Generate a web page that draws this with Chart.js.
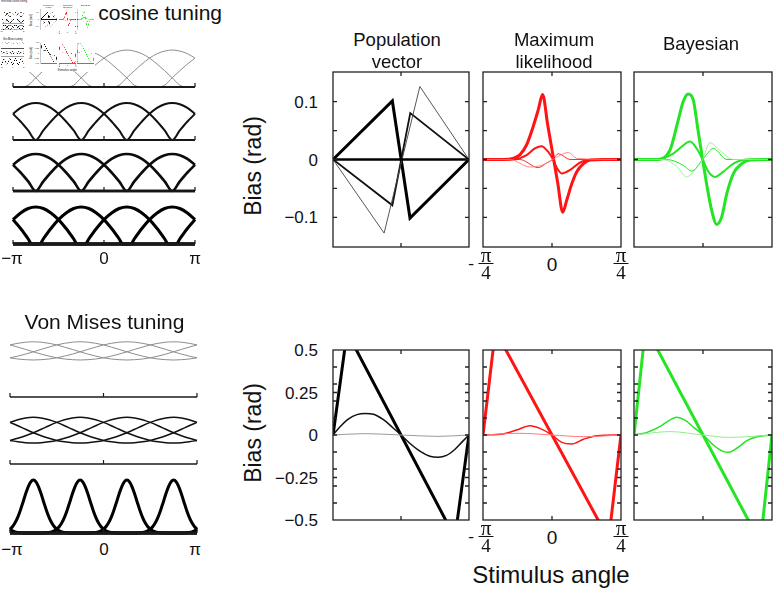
<!DOCTYPE html>
<html>
<head>
<meta charset="utf-8">
<script src="https://cdn.jsdelivr.net/npm/chart.js@4.4.1/dist/chart.umd.min.js"></script>
<style>
  html, body { margin: 0; padding: 0; background: #fff; }
  body { width: 774px; height: 589px; overflow: hidden; position: relative; font-family: "Liberation Sans", Arial, Helvetica, sans-serif; }
  .fig { position: absolute; left: 0; top: 0; width: 774px; height: 589px; background: #fff; }
  .fig canvas { position: absolute; }
  .t { position: absolute; white-space: nowrap; color: #111; line-height: 1; z-index: 2; }
  .frac { position: absolute; z-index: 3; font-family: "Liberation Serif", "DejaVu Serif", serif; color: #111; text-align: center; transform: translateX(-50%); }
  .frac .num { font-size: 21px; line-height: 13px; }
  .frac .bar { height: 1.3px; background: #111; width: 15px; margin: 1px auto 1px auto; }
  .frac .den { font-size: 19px; line-height: 16px; }
  #thumb { transform: scale(0.122); transform-origin: 0 0; z-index: 5; }
</style>
</head>
<body>
<div id="main" class="fig"></div>
<div id="thumb" class="fig"></div>
<script>
// preferred angles of the four model neurons (deg)
const prefAngles = [-135, -45, 45, 135]

// tuning profiles: response vs distance from the preferred angle (deg)
const cosOffsets = [0, 15, 30, 45, 60, 75, 90, 105, 120, 135, 150, 165, 180]
const cosWide = [1, 0.97, 0.90, 0.78, 0.62, 0.44, 0.25, 0.05, 0, 0, 0, 0, 0]
const cosHalf = [1, 0.966, 0.866, 0.707, 0.5, 0.259, 0, 0, 0, 0, 0, 0, 0]
const cosNarrowOffsets = [0, 15, 30, 45, 60, 75, 82, 90, 105, 120, 135, 150, 165, 180]
const cosNarrow = [1, 0.96, 0.84, 0.66, 0.42, 0.14, 0, 0, 0, 0, 0, 0, 0, 0]
const vmOffsets = [0, 15, 30, 45, 60, 75, 90, 105, 120, 135, 150, 165, 180]
const vmFlat = [55.2, 54.8, 53.7, 52.1, 49.9, 47.6, 45.2, 42.9, 40.9, 39.2, 38.0, 37.3, 37]
const vmBroad = [46.7, 46.1, 44.3, 41.6, 38.3, 34.7, 31.3, 28.2, 25.7, 23.6, 22.2, 21.3, 21]
const vmSharpOffsets = [0, 5, 10, 15, 20, 25, 30, 35, 40, 45, 50, 55, 60, 70, 80, 90, 105, 120, 135, 150, 165, 180]
const vmSharp = [53, 51.2, 46.2, 39, 30.8, 22.8, 15.9, 10.4, 6.5, 3.8, 2.1, 1.1, 0.6, 0.1, 0, 0, 0, 0, 0, 0, 0, 0]

// bias curves, stimulus angle in rad (-pi/4 .. pi/4), bias in rad
// top row: rectified cosine tuning
const popTopThickX = [-0.785, -0.100, 0.104, 0.785]
const popTopThickY = [0, 0.101, -0.101, 0]
const popTopMidX = [-0.785, -0.100, 0.107, 0.785]
const popTopMidY = [0, -0.079, 0.080, 0]
const popTopThinX = [-0.785, -0.195, 0.218, 0.785]
const popTopThinY = [0, -0.127, 0.126, 0]
const popTopFlatX = [-0.785, 0.785]
const popTopFlatY = [0, 0]

const mlTopThickX = [-0.785, -0.556, -0.442, -0.366, -0.290, -0.214, -0.156, -0.107, -0.050, 0.008, 0.065, 0.122, 0.168, 0.225, 0.282, 0.358, 0.435, 0.587, 0.785]
const mlTopThickY = [0, 0, 0.002, 0.008, 0.025, 0.057, 0.086, 0.112, 0.061, 0.010, -0.040, -0.091, -0.070, -0.042, -0.021, -0.007, -0.001, 0, 0]
const mlTopMidX = [-0.785, -0.442, -0.290, -0.195, -0.119, -0.042, 0.015, 0.061, 0.111, 0.206, 0.301, 0.397, 0.785]
const mlTopMidY = [0, 0, 0.0075, 0.019, 0.023, 0.013, -0.001, -0.016, -0.024, -0.018, -0.007, -0.001, 0]
const mlTopThinAX = [-0.785, -0.480, -0.251, -0.119, 0.008, 0.187, 0.282, 0.785]
const mlTopThinAY = [0, 0, -0.013, -0.010, 0, 0.012, 0.002, 0]
const mlTopThinBX = [-0.785, -0.366, -0.156, -0.061, 0.008, 0.073, 0.206, 0.785]
const mlTopThinBY = [0, 0, -0.014, -0.006, 0, 0.010, 0, 0]

const bayTopThickX = [-0.785, -0.530, -0.377, -0.282, -0.225, -0.168, -0.111, -0.057, -0.004, 0.050, 0.099, 0.156, 0.213, 0.271, 0.347, 0.442, 0.538, 0.785]
const bayTopThickY = [0, 0, 0.016, 0.068, 0.100, 0.113, 0.103, 0.051, 0, -0.050, -0.088, -0.112, -0.099, -0.059, -0.024, -0.007, -0.001, 0]
const bayTopMidX = [-0.785, -0.530, -0.339, -0.244, -0.149, -0.072, -0.004, 0.061, 0.137, 0.232, 0.347, 0.500, 0.785]
const bayTopMidY = [0, 0, 0.010, 0.022, 0.031, 0.019, 0, -0.021, -0.030, -0.021, -0.007, 0, 0]
const bayTopThinAX = [-0.785, -0.454, -0.301, -0.187, -0.091, -0.004, 0.080, 0.176, 0.347, 0.785]
const bayTopThinAY = [0, 0, -0.012, -0.030, -0.018, 0, 0.029, 0.018, 0, 0]
const bayTopThinBX = [-0.785, -0.415, -0.225, -0.130, -0.004, 0.118, 0.271, 0.785]
const bayTopThinBY = [0, 0, -0.010, -0.020, 0, 0.019, 0, 0]

// bottom row: von Mises tuning
const popBotThickX = [-0.785, -0.623, 0.623, 0.785]
const popBotThickY = [0, 0.604, -0.604, 0]
const popBotMidX = [-0.785, -0.701, -0.605, -0.510, -0.414, -0.318, -0.203, -0.088, 0, 0.104, 0.218, 0.333, 0.429, 0.525, 0.621, 0.698, 0.785]
const popBotMidY = [0, 0.05, 0.095, 0.12, 0.127, 0.122, 0.09, 0.04, 0, -0.05, -0.095, -0.125, -0.131, -0.12, -0.085, -0.045, 0]
const popBotThinX = [-0.785, -0.414, 0, 0.429, 0.785]
const popBotThinY = [0, 0.008, 0, -0.008, 0]

const mlBotThickX = [-0.785, -0.645, 0.645, 0.785]
const mlBotThickY = [0, 0.614, -0.614, 0]
const mlBotMidX = [-0.785, -0.556, -0.404, -0.252, -0.137, 0, 0.111, 0.225, 0.359, 0.511, 0.785]
const mlBotMidY = [0, 0.006, 0.029, 0.055, 0.039, 0, -0.043, -0.053, -0.025, -0.004, 0]
const mlBotThinX = [-0.785, -0.366, 0, 0.358, 0.785]
const mlBotThinY = [0, 0.01, 0, -0.01, 0]

const bayBotThickX = [-0.785, -0.654, 0.654, 0.785]
const bayBotThickY = [0, 0.635, -0.635, 0]
const bayBotMidX = [-0.785, -0.644, -0.492, -0.377, -0.301, -0.206, -0.092, 0.004, 0.118, 0.233, 0.290, 0.385, 0.500, 0.614, 0.785]
const bayBotMidY = [0, 0.014, 0.049, 0.088, 0.104, 0.088, 0.039, 0, -0.059, -0.098, -0.102, -0.078, -0.033, -0.010, 0]
const bayBotThinX = [-0.785, -0.377, 0, 0.290, 0.785]
const bayBotThinY = [0, 0.02, 0, -0.014, 0]

// axis ticks and labels
const topTicks = [-0.1, -0.05, 0, 0.05, 0.1]
const botTicks = [-0.4, -0.3, -0.25, -0.2, -0.1, 0, 0.1, 0.2, 0.25, 0.3, 0.4]
const topLabelVals = [0.1, 0, -0.1]
const topLabelText = ['0.1', '0', '\u22120.1']
const botLabelVals = [0.5, 0.25, 0, -0.25, -0.5]
const botLabelText = ['0.5', '0.25', '0', '\u22120.25', '\u22120.5']
const panelTitles = [['Population', 'vector'], ['Maximum', 'likelihood'], ['Bayesian']]

const RED = '#ff1414', RED_THIN = '#ff7a7a'
const GREEN = '#24e424', GREEN_THIN = '#8ef08e'

function label(root, str, x, y, size, align, extra) {
  const d = document.createElement('div')
  d.className = 't'
  d.textContent = str
  d.style.fontSize = size + 'px'
  d.style.left = x + 'px'
  d.style.top = y + 'px'
  const tx = align === 'right' ? '-100%' : align === 'left' ? '0' : '-50%'
  d.style.transform = 'translate(' + tx + ',-50%)' + (extra || '')
  root.appendChild(d)
  return d
}

function fraction(root, x, top, minus) {
  const d = document.createElement('div')
  d.className = 'frac'
  d.style.left = x + 'px'
  d.style.top = top + 'px'
  d.innerHTML = '<div class="num">\u03c0</div><div class="bar"></div><div class="den">4</div>'
  root.appendChild(d)
  if (minus) label(root, '-', x - 15, top + 14, 17, 'center').style.fontFamily = '"Liberation Serif", serif'
}

function makeChart(root, box, pad, cfg) {
  const c = document.createElement('canvas')
  c.width = box.w + 2 * pad
  c.height = box.h + 2 * pad
  c.style.left = (box.x - pad) + 'px'
  c.style.top = (box.y - pad) + 'px'
  c.style.width = c.width + 'px'
  c.style.height = c.height + 'px'
  root.appendChild(c)
  return new Chart(c.getContext('2d'), {
    type: 'line',
    data: { datasets: cfg.datasets },
    options: {
      responsive: false, animation: false, devicePixelRatio: 1,
      layout: { padding: pad },
      plugins: { legend: { display: false }, tooltip: { enabled: false } },
      elements: { point: { radius: 0 } },
      scales: {
        x: { type: 'linear', display: false, min: cfg.xMin, max: cfg.xMax },
        y: { type: 'linear', display: false, min: cfg.yMin, max: cfg.yMax }
      }
    },
    plugins: [cfg.plugin]
  })
}

// box with inward ticks on all four sides
function framePlugin(yTicks, xTicks) {
  return {
    id: 'frame',
    afterDatasetsDraw(chart) {
      const { ctx, chartArea: a, scales: { x, y } } = chart
      ctx.save()
      ctx.strokeStyle = '#222'
      ctx.lineWidth = 1.3
      ctx.strokeRect(a.left, a.top, a.right - a.left, a.bottom - a.top)
      ctx.beginPath()
      yTicks.forEach(v => {
        const py = y.getPixelForValue(v)
        ctx.moveTo(a.left, py); ctx.lineTo(a.left + 4, py)
        ctx.moveTo(a.right, py); ctx.lineTo(a.right - 4, py)
      })
      xTicks.forEach(v => {
        const px = x.getPixelForValue(v)
        ctx.moveTo(px, a.top); ctx.lineTo(px, a.top + 4)
        ctx.moveTo(px, a.bottom); ctx.lineTo(px, a.bottom - 4)
      })
      ctx.stroke()
      ctx.restore()
    }
  }
}

// baseline with small upward ticks at -pi, 0, pi
function axisPlugin(width) {
  return {
    id: 'baseAxis',
    afterDatasetsDraw(chart) {
      const { ctx, scales: { x, y } } = chart
      const py = y.getPixelForValue(0)
      ctx.save()
      ctx.strokeStyle = '#1a1a1a'
      ctx.lineWidth = width
      ctx.beginPath()
      ctx.moveTo(x.getPixelForValue(-180), py); ctx.lineTo(x.getPixelForValue(180), py)
      ctx.stroke()
      ctx.lineWidth = 1.2
      ctx.beginPath()
      ;[-180, 0, 180].forEach(v => { const px = x.getPixelForValue(v); ctx.moveTo(px, py); ctx.lineTo(px, py - 4) })
      ctx.stroke()
      ctx.restore()
    }
  }
}

function curvePoints(offsets, values, pref) {
  const pts = []
  offsets.forEach((o, i) => {
    [o, -o].forEach((d, k) => {
      if (k === 1 && (o === 0 || o === 180)) return
      const x = ((pref + d + 180) % 360 + 360) % 360 - 180
      pts.push({ x, y: values[i] })
    })
  })
  pts.sort((a, b) => a.x - b.x)
  pts.push({ x: 180, y: pts[0].y })
  return pts
}

function tuningRow(root, box, offsets, values, yMax, color, width, axisWidth) {
  const datasets = prefAngles.map(p => ({
    data: curvePoints(offsets, values, p), borderColor: color, borderWidth: width,
    cubicInterpolationMode: 'monotone', clip: false, fill: false
  }))
  return makeChart(root, box, 5, { datasets, xMin: -180, xMax: 180, yMin: 0, yMax, plugin: axisPlugin(axisWidth) })
}

function series(xs, ys, color, width, smooth) {
  return { data: xs.map((x, i) => ({ x, y: ys[i] })), borderColor: color, borderWidth: width,
    cubicInterpolationMode: smooth ? 'monotone' : 'default', tension: 0, fill: false }
}

function biasPanel(root, box, yLim, yTicks, datasets) {
  return makeChart(root, box, 4, { datasets, xMin: -Math.PI / 4, xMax: Math.PI / 4, yMin: -yLim, yMax: yLim, plugin: framePlugin(yTicks, [0]) })
}

function build(root, isThumb) {
  // left: rectified cosine tuning
  label(root, 'Rectified cosine tuning', 222, 12, 21, 'right')
  const cx = 13, cw = 182
  if (!isThumb) tuningRow(root, { x: cx, y: 50, w: cw, h: 37 }, cosOffsets, cosWide, 1, '#8c8c8c', 1, 2)
  tuningRow(root, { x: cx, y: 103, w: cw, h: 37 }, cosOffsets, cosHalf, 1, '#111', 2, 1.5)
  tuningRow(root, { x: cx, y: 154, w: cw, h: 37 }, cosOffsets, cosHalf, 1, '#0c0c0c', 2.6, 1.6)
  tuningRow(root, { x: cx, y: 207, w: cw, h: 37 }, cosNarrowOffsets, cosNarrow, 1, '#000', 3, 2.8)
  label(root, '\u2212\u03c0', 12, 258, 17, 'center')
  label(root, '0', 104, 258, 17, 'center')
  label(root, '\u03c0', 195, 258, 17, 'center')

  // left: von Mises tuning
  label(root, 'Von Mises tuning', 104.5, 321, 21, 'center')
  const vx = 10, vw = 187
  tuningRow(root, { x: vx, y: 337, w: vw, h: 60 }, vmOffsets, vmFlat, 60, '#8c8c8c', 1, 1.4)
  tuningRow(root, { x: vx, y: 414, w: vw, h: 50 }, vmOffsets, vmBroad, 50, '#111', 1.5, 1.4)
  tuningRow(root, { x: vx, y: 478, w: vw, h: 55 }, vmSharpOffsets, vmSharp, 55, '#000', 3, 2.8)
  label(root, '\u2212\u03c0', 12, 549, 17, 'center')
  label(root, '0', 104, 549, 17, 'center')
  label(root, '\u03c0', 195, 549, 17, 'center')

  // right: bias panels
  const cols = [{ x: 333, w: 136 }, { x: 483, w: 138 }, { x: 634, w: 138 }]
  const topBox = c => ({ x: c.x, y: 72, w: c.w, h: 175 })
  const botBox = c => ({ x: c.x, y: 350, w: c.w, h: 170 })

  const popTop = biasPanel(root, topBox(cols[0]), 0.151, topTicks, [
    series(popTopFlatX, popTopFlatY, '#000', 2.5, false),
    series(popTopThinX, popTopThinY, '#444', 0.9, false),
    series(popTopMidX, popTopMidY, '#111', 1.8, false),
    series(popTopThickX, popTopThickY, '#000', 3, false)
  ])
  const mlTop = biasPanel(root, topBox(cols[1]), 0.151, topTicks, [
    series(mlTopThinAX, mlTopThinAY, RED_THIN, 0.9, true),
    series(mlTopThinBX, mlTopThinBY, RED, 0.9, true),
    series(mlTopMidX, mlTopMidY, RED, 2, true),
    series(mlTopThickX, mlTopThickY, RED, 3, true)
  ])
  biasPanel(root, topBox(cols[2]), 0.151, topTicks, [
    series(bayTopThinAX, bayTopThinAY, GREEN_THIN, 0.9, true),
    series(bayTopThinBX, bayTopThinBY, GREEN, 1, true),
    series(bayTopMidX, bayTopMidY, GREEN, 2, true),
    series(bayTopThickX, bayTopThickY, GREEN, 3, true)
  ])

  const popBot = biasPanel(root, botBox(cols[0]), 0.5, botTicks, [
    series(popBotThinX, popBotThinY, '#9a9a9a', 1, true),
    series(popBotMidX, popBotMidY, '#111', 1.5, true),
    series(popBotThickX, popBotThickY, '#000', 3, false)
  ])
  const mlBot = biasPanel(root, botBox(cols[1]), 0.5, botTicks, [
    series(mlBotThinX, mlBotThinY, RED_THIN, 1, true),
    series(mlBotMidX, mlBotMidY, RED, 1.5, true),
    series(mlBotThickX, mlBotThickY, RED, 3, false)
  ])
  biasPanel(root, botBox(cols[2]), 0.5, botTicks, [
    series(bayBotThinX, bayBotThinY, GREEN_THIN, 1, true),
    series(bayBotMidX, bayBotMidY, GREEN, 1.5, true),
    series(bayBotThickX, bayBotThickY, GREEN, 3, false)
  ])

  // y tick labels placed through the left panels' scales
  topLabelVals.forEach((v, i) => label(root, topLabelText[i], 318, 72 - 4 + popTop.scales.y.getPixelForValue(v), 17, 'right'))
  botLabelVals.forEach((v, i) => label(root, botLabelText[i], 318, 350 - 4 + popBot.scales.y.getPixelForValue(v), 17, 'right'))

  // x tick labels under the maximum-likelihood panels
  ;[[mlTop, 249, 264], [mlBot, 522, 537]].forEach(([ch, fracTop, zeroY]) => {
    const left = cols[1].x - 4
    fraction(root, left + ch.scales.x.getPixelForValue(-Math.PI / 4) + 3, fracTop, true)
    label(root, '0', left + ch.scales.x.getPixelForValue(0), zeroY, 19, 'center')
    fraction(root, left + ch.scales.x.getPixelForValue(Math.PI / 4), fracTop, false)
  })

  // titles and axis names
  const titleX = [397, 554, 701]
  panelTitles.forEach((lines, i) => {
    if (lines.length === 2) {
      label(root, lines[0], titleX[i], 40, 18.5, 'center')
      label(root, lines[1], titleX[i], 62, 18.5, 'center')
    } else {
      label(root, lines[0], titleX[i], 44, 18.5, 'center')
    }
  })
  label(root, 'Bias (rad)', 252.5, 166, 23, 'center', ' rotate(-90deg)')
  label(root, 'Bias (rad)', 253, 433, 23, 'center', ' rotate(-90deg)')
  label(root, 'Stimulus angle', 551, 575, 24, 'center')
}

build(document.getElementById('main'), false)
build(document.getElementById('thumb'), true)
</script>
</body>
</html>
